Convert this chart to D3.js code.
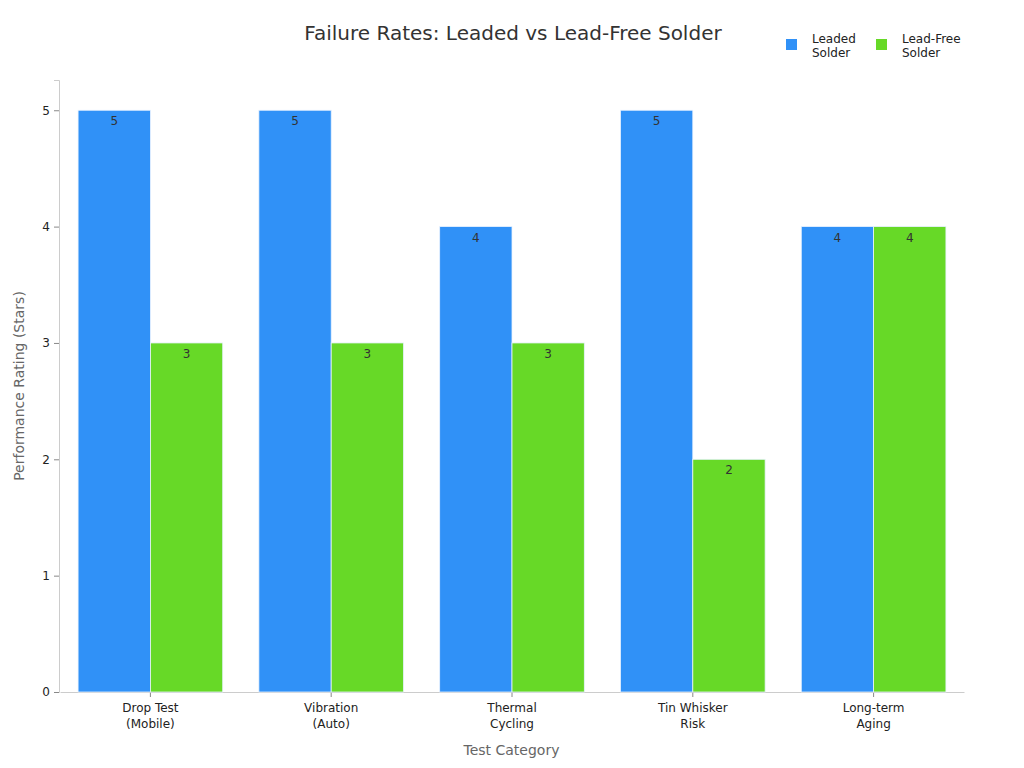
<!DOCTYPE html>
<html>
<head>
<meta charset="utf-8">
<script src="https://cdn.jsdelivr.net/npm/d3@7"></script>
<style>
  body { margin: 0; background: #fff; }
  text { font-family: "DejaVu Sans", sans-serif; }
</style>
</head>
<body>
<svg id="chart" width="1024" height="768"></svg>
<script>
const categories = [['Drop Test', '(Mobile)'], ['Vibration', '(Auto)'], ['Thermal', 'Cycling'], ['Tin Whisker', 'Risk'], ['Long-term', 'Aging']];
const seriesNames = [['Leaded', 'Solder'], ['Lead-Free', 'Solder']];
const leaded = [5, 5, 4, 5, 4];
const leadFree = [3, 3, 3, 2, 4];
const yTicks = [0, 1, 2, 3, 4, 5];
const colors = ['#3091f7', '#67d927'];

const svg = d3.select('#chart');
const margin = { top: 80, right: 60, bottom: 76, left: 59 };
const width = 1024 - margin.left - margin.right;
const height = 768 - margin.top - margin.bottom;
const g = svg.append('g').attr('transform', `translate(${margin.left},${margin.top})`);

const keys = categories.map(c => c.join(' '));
const x0 = d3.scaleBand().domain(keys).range([1, width]).paddingInner(0.2).paddingOuter(0.1);
const x1 = d3.scaleBand().domain([0, 1]).range([0, x0.bandwidth()]);
const y = d3.scaleLinear().domain([0, 5.26]).range([height, 0]);

// axes
const yAxis = g.append('g').call(d3.axisLeft(y).tickValues(yTicks).tickFormat(d3.format('d')).tickSize(5).tickPadding(4));
yAxis.select('.domain').attr('stroke', '#ccc');
yAxis.selectAll('.tick line').attr('stroke', '#888');
yAxis.selectAll('.tick text').attr('fill', '#222').style('font-size', '12px');

const xAxis = g.append('g').attr('transform', `translate(0,${height})`)
  .call(d3.axisBottom(x0).tickSize(5).tickSizeOuter(0).tickFormat(() => ''));
xAxis.select('.domain').attr('stroke', '#ccc');
xAxis.selectAll('.tick line').attr('stroke', '#888');
xAxis.selectAll('.tick').each(function (d, i) {
  const t = d3.select(this).append('text')
    .attr('fill', '#222').attr('text-anchor', 'middle').style('font-size', '12px');
  categories[i].forEach((line, j) => {
    t.append('tspan').attr('x', 0).attr('y', 20 + j * 16).text(line);
  });
});

// bars
const series = [leaded, leadFree];
series.forEach((vals, s) => {
  const grp = g.append('g');
  grp.selectAll('rect').data(vals).join('rect')
    .attr('x', (d, i) => x0(keys[i]) + x1(s))
    .attr('y', d => y(d))
    .attr('width', x1.bandwidth())
    .attr('height', d => height - y(d))
    .attr('fill', colors[s])
    .attr('stroke', '#e8f2ff')
    .attr('stroke-width', 0.8);
  grp.selectAll('text').data(vals).join('text')
    .attr('x', (d, i) => x0(keys[i]) + x1(s) + x1.bandwidth() / 2)
    .attr('y', d => y(d) + 15)
    .attr('text-anchor', 'middle')
    .attr('fill', '#333')
    .style('font-size', '12px')
    .text(d => d);
});

// titles
svg.append('text').attr('x', 513).attr('y', 40).attr('text-anchor', 'middle')
  .attr('fill', '#333').style('font-size', '20px').text('Failure Rates: Leaded vs Lead-Free Solder');
svg.append('text').attr('x', margin.left + width / 2).attr('y', 755).attr('text-anchor', 'middle')
  .attr('fill', '#666').style('font-size', '14px').text('Test Category');
svg.append('text').attr('transform', `translate(24,${margin.top + height / 2}) rotate(-90)`)
  .attr('text-anchor', 'middle').attr('fill', '#666').style('font-size', '14px')
  .text('Performance Rating (Stars)');

// legend
const legendX = [786, 876];
seriesNames.forEach((name, s) => {
  const lg = svg.append('g').attr('transform', `translate(${legendX[s]},39)`);
  lg.append('rect').attr('width', 11).attr('height', 11).attr('fill', colors[s]);
  const t = lg.append('text').attr('fill', '#222').style('font-size', '12px');
  name.forEach((line, j) => {
    t.append('tspan').attr('x', 26).attr('y', 4 + j * 14).text(line);
  });
});
</script>
</body>
</html>
